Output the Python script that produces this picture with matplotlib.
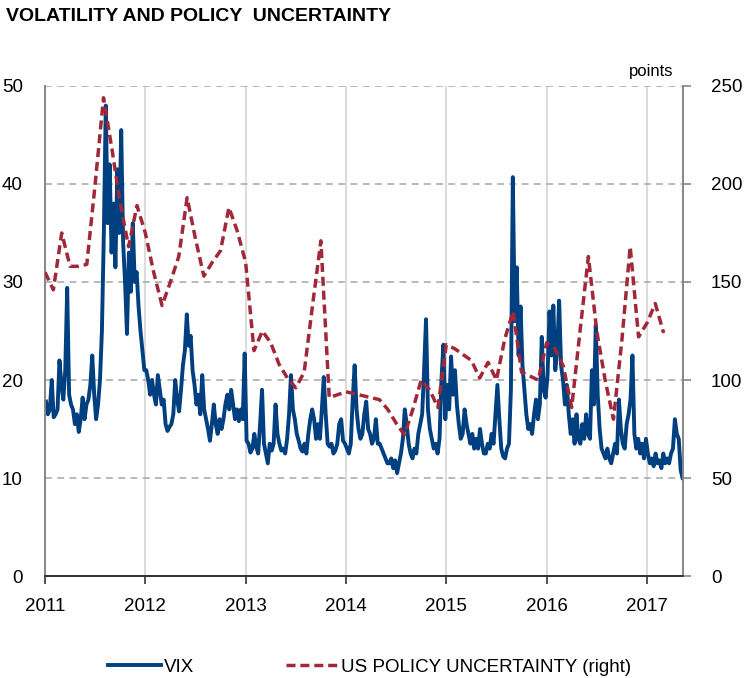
import numpy as np
import matplotlib
matplotlib.use("Agg")
from matplotlib import pyplot as plt
from matplotlib.lines import Line2D

# weekly VIX readings, one list per year
vix_2011 = [17.8, 16.5, 17.0, 20.0, 16.2, 16.5, 17.0, 22.0, 19.5, 18.0, 21.0, 29.4, 18.5,
            17.5, 17.0, 15.5, 16.5, 14.7, 16.0, 18.2, 16.0, 17.5, 18.0, 19.5, 22.5, 18.5,
            16.0, 17.5, 20.0, 25.0, 35.0, 48.0, 36.0, 42.0, 33.0, 38.0, 31.5, 41.5, 35.0,
            45.5, 34.0, 30.0, 24.7, 33.0, 29.0, 36.0, 30.0, 31.0, 27.5, 25.0, 23.0, 21.0]
vix_2012 = [21.0, 20.0, 18.5, 20.0, 18.5, 17.5, 20.5, 19.0, 17.5, 18.0, 15.5, 14.8, 15.2,
            15.5, 16.5, 20.0, 18.0, 16.8, 19.0, 21.5, 23.0, 26.7, 23.5, 24.5, 21.0, 19.5,
            17.5, 18.5, 16.5, 20.5, 17.0, 16.0, 15.0, 13.8, 15.5, 17.5, 15.5, 14.5, 16.0,
            15.0, 16.0, 17.5, 18.5, 17.0, 19.0, 17.5, 16.0, 17.0, 15.8, 17.0, 16.0, 22.7]
vix_2013 = [13.8, 13.5, 12.6, 13.0, 14.5, 13.2, 12.5, 15.5, 19.0, 13.5, 12.5, 11.5, 13.5,
            12.8, 13.5, 17.5, 14.5, 13.5, 12.8, 13.0, 12.5, 14.0, 16.5, 20.5, 17.0, 16.0,
            14.5, 13.8, 13.0, 12.7, 13.5, 12.5, 14.5, 16.0, 17.0, 16.0, 14.0, 15.5, 14.0,
            17.0, 20.3, 16.5, 13.5, 13.2, 13.5, 12.5, 12.8, 13.5, 15.5, 16.0, 13.8, 13.5]
vix_2014 = [13.0, 12.5, 13.5, 18.0, 21.5, 17.0, 15.0, 14.0, 14.5, 16.5, 17.8, 15.0, 14.5,
            13.5, 14.0, 16.0, 13.5, 13.5, 13.0, 12.5, 12.0, 11.5, 11.5, 12.0, 11.0, 11.8,
            10.5, 11.5, 12.5, 14.0, 17.0, 15.5, 13.5, 12.5, 12.0, 13.0, 12.5, 14.5, 15.5,
            16.5, 21.0, 26.2, 17.0, 15.0, 14.0, 13.0, 13.5, 12.5, 14.0, 20.0, 23.6, 16.0]
vix_2015 = [19.5, 17.0, 22.4, 18.5, 21.0, 17.5, 15.5, 14.0, 14.5, 17.0, 15.5, 14.5, 13.5,
            14.5, 13.0, 14.0, 13.0, 15.0, 13.5, 12.5, 12.5, 13.5, 13.0, 14.5, 13.5, 16.5,
            19.5, 16.0, 13.0, 12.2, 12.0, 13.0, 13.5, 19.0, 40.7, 26.0, 31.5, 22.5, 27.5,
            21.5, 19.0, 16.5, 15.0, 15.5, 14.5, 16.5, 18.0, 16.0, 17.5, 24.4, 19.0, 18.2]
vix_2016 = [20.5, 27.0, 22.5, 27.6, 21.0, 23.0, 28.1, 21.5, 20.0, 17.5, 19.5, 16.5, 14.5,
            16.0, 13.5, 16.5, 14.0, 13.5, 15.5, 14.0, 16.5, 14.5, 14.0, 21.0, 17.5, 25.6,
            18.5, 15.0, 13.0, 12.5, 12.0, 13.0, 12.0, 11.5, 12.5, 13.5, 12.5, 18.0, 15.0,
            13.5, 13.0, 15.5, 16.5, 18.0, 22.5, 14.5, 13.0, 14.0, 12.5, 13.5, 12.0, 14.0]
vix_2017 = [12.5, 11.5, 12.0, 11.2, 12.5, 11.5, 11.8, 11.0, 12.5, 11.5, 12.0, 11.5, 12.5,
            13.0, 16.0, 14.5, 14.0, 10.8, 10.0]

# monthly US policy uncertainty index, Jan 2011 - Mar 2017 (right axis)
policy_start = 2011
policy = [155, 146, 175, 158, 158, 159, 200, 244, 218, 190, 168, 189,
          175, 155, 138, 150, 163, 193, 172, 153, 160, 166, 188, 176,
          160, 115, 125, 119, 108, 101, 96, 104, 138, 171, 91, 92.5,
          94, 93, 92, 91, 90, 85, 78, 72, 85, 100, 95, 86,
          118, 116, 113, 110, 101, 109, 100, 121, 135, 104, 102, 100,
          119, 116, 107, 86, 125, 163, 125, 100, 80, 120, 168, 122,
          129, 139, 124]

years = [2011, 2012, 2013, 2014, 2015, 2016, 2017]
left_ticks = [0, 10, 20, 30, 40, 50]
right_ticks = [0, 50, 100, 150, 200, 250]

title = "VOLATILITY AND POLICY  UNCERTAINTY"
vix_label = "VIX"
policy_label = "US POLICY UNCERTAINTY (right)"

vix_color = "#003f80"
policy_color = "#a02838"

# build x positions (fractional years)
vix_x, vix_y = [], []
for yr, vals in zip(years, [vix_2011, vix_2012, vix_2013, vix_2014, vix_2015, vix_2016, vix_2017]):
	for i, v in enumerate(vals):
		vix_x.append(yr + (i + 0.5) / 52.0)
		vix_y.append(v)
policy_x = [policy_start + m / 12.0 for m in range(len(policy))]

plt.rcParams['font.family'] = ['Liberation Sans', 'DejaVu Sans']

fig = plt.figure(figsize=(7.5, 6.78), dpi=100)
ax = fig.add_axes([0.06, 0.1504, 0.8507, 0.7228])
ax2 = ax.twinx()

# gridlines
for yr in years[1:]:
	ax.axvline(yr, color="#d9d9d9", lw=1.3, zorder=0)
for t in left_ticks[1:]:
	ax.axhline(t, color="#a6a6a6", lw=1.1, ls=(0, (4.5, 3.5)), zorder=0)

ax.plot(vix_x, vix_y, color=vix_color, lw=2.8, solid_joinstyle='round', zorder=3)
ax2.plot(policy_x, policy, color=policy_color, lw=2.5, ls=(0, (2.6, 1.4)), zorder=3)

ax.set_xlim(2011, 2017.36)
ax.set_ylim(0, 50)
ax2.set_ylim(0, 250)

ax.set_xticks(years)
ax.set_xticklabels([str(y) for y in years], fontsize=13.5)
ax.set_yticks(left_ticks)
ax.set_yticklabels([str(t) for t in left_ticks], fontsize=13.5)
ax2.set_yticks(right_ticks)
ax2.set_yticklabels([str(t) for t in right_ticks], fontsize=13.5)

ax.tick_params(axis='x', direction='out', length=6, width=1.2, color="#333333", pad=10)
ax.tick_params(axis='y', length=0, pad=16)
ax2.tick_params(axis='y', direction='out', length=6, width=1.2, color="#888888", pad=14)

for a in (ax, ax2):
	a.spines['top'].set_visible(False)
	a.spines['left'].set_color("#888888")
	a.spines['right'].set_color("#888888")
	a.spines['left'].set_linewidth(1.3)
	a.spines['right'].set_linewidth(1.3)
	a.spines['bottom'].set_color("#333333")
	a.spines['bottom'].set_linewidth(1.3)

fig.text(0.008, 0.975, title, fontsize=14, fontweight='bold', ha='left', va='center')
fig.text(0.898, 0.894, "points", fontsize=12, ha='right', va='center')

handles = [Line2D([], [], color=vix_color, lw=2.8),
           Line2D([], [], color=policy_color, lw=2.5, ls=(0, (2.6, 1.4)))]
fig.legend(handles, [vix_label, policy_label], loc='center left',
           bbox_to_anchor=(0.122, 0.016), ncol=2, frameon=False,
           handlelength=2.8, handletextpad=0.15, columnspacing=4.9,
           prop={'family': ['Liberation Sans Narrow', 'Liberation Sans'], 'size': 13.5})

fig.savefig("out.png", dpi=100)
